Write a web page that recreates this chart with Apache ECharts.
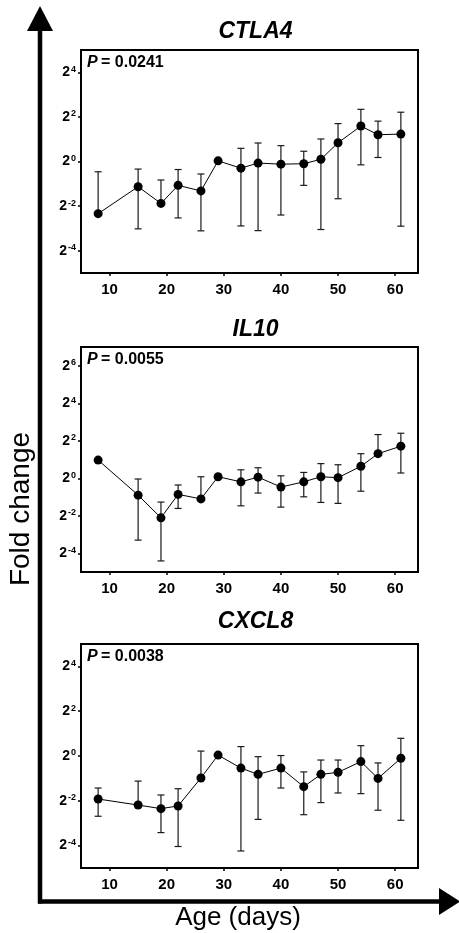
<!DOCTYPE html>
<html>
<head>
<meta charset="utf-8">
<script src="https://cdn.jsdelivr.net/npm/echarts@6/dist/echarts.min.js"></script>
<style>
  html, body { margin: 0; padding: 0; background: #fff; }
  #chart { width: 459px; height: 933px; }
</style>
</head>
<body>
<div id="chart"></div>
<script>
// ages (days), values are log2 fold change
const days = [8, 15, 19, 22, 26, 29, 33, 36, 40, 44, 47, 50, 54, 57, 61];
const xTicks = [10, 20, 30, 40, 50, 60];

const ctla4Mean  = [-2.34, -1.13, -1.88, -1.07, -1.32, 0.03, -0.30, -0.07, -0.12, -0.10, 0.10, 0.84, 1.59, 1.20, 1.23];
const ctla4Upper = [-0.46, -0.34, -0.83, -0.36, -0.56, null, 0.59, 0.83, 0.71, 0.46, 1.01, 1.70, 2.34, 1.81, 2.21];
const ctla4Lower = [null, -3.02, null, -2.53, -3.11, null, -2.89, -3.10, -2.40, -1.07, -3.05, -1.67, -0.15, 0.18, -2.90];

const il10Mean  = [0.97, -0.90, -2.11, -0.86, -1.10, 0.08, -0.19, 0.06, -0.47, -0.19, 0.08, 0.03, 0.64, 1.31, 1.71];
const il10Upper = [null, -0.04, -1.27, -0.36, 0.08, null, 0.45, 0.56, 0.13, 0.31, 0.78, 0.72, 1.31, 2.33, 2.40];
const il10Lower = [null, -3.30, -4.41, -1.61, null, null, -1.47, -0.79, -1.54, -0.99, -1.29, -1.34, -0.69, null, 0.28];

const cxcl8Mean  = [-1.92, -2.19, -2.35, -2.23, -0.98, 0.04, -0.54, -0.82, -0.54, -1.37, -0.82, -0.73, -0.25, -1.00, -0.10];
const cxcl8Upper = [-1.43, -1.12, -1.74, -1.46, 0.22, null, 0.42, -0.03, 0.02, -0.71, -0.18, -0.18, 0.46, -0.31, 0.79];
const cxcl8Lower = [-2.69, null, -3.42, -4.04, null, null, -4.24, -2.83, -1.43, -2.62, -2.08, -1.65, -1.68, -2.42, -2.87];

const panels = [
  { name: 'CTLA4', p: '0.0241', mean: ctla4Mean, upper: ctla4Upper, lower: ctla4Lower, yMin: -5, yMax: 5, yTicks: [-4, -2, 0, 2, 4], top: 50, height: 223, titleY: 27 },
  { name: 'IL10', p: '0.0055', mean: il10Mean, upper: il10Upper, lower: il10Lower, yMin: -5, yMax: 7, yTicks: [-4, -2, 0, 2, 4, 6], top: 347, height: 225, titleY: 325 },
  { name: 'CXCL8', p: '0.0038', mean: cxcl8Mean, upper: cxcl8Upper, lower: cxcl8Lower, yMin: -5, yMax: 5, yTicks: [-4, -2, 0, 2, 4], top: 644, height: 224, titleY: 617 }
];

const FONT = '"Liberation Sans", Arial, sans-serif';
const boxLeft = 81, boxWidth = 337;

var chart = echarts.init(document.getElementById('chart'), null, { renderer: 'canvas' });

function errorBars(params, api) {
  var x = api.value(0), m = api.value(1), lo = api.value(2), hi = api.value(3);
  if (lo === m && hi === m) return null;
  var pHi = api.coord([x, hi]);
  var pLo = api.coord([x, lo]);
  var w = 3.5;
  var style = { stroke: '#1a1a1a', lineWidth: 1.2 };
  var kids = [{ type: 'line', shape: { x1: pLo[0], y1: pLo[1], x2: pHi[0], y2: pHi[1] }, style: style }];
  if (hi !== m) kids.push({ type: 'line', shape: { x1: pHi[0] - w, y1: pHi[1], x2: pHi[0] + w, y2: pHi[1] }, style: style });
  if (lo !== m) kids.push({ type: 'line', shape: { x1: pLo[0] - w, y1: pLo[1], x2: pLo[0] + w, y2: pLo[1] }, style: style });
  return { type: 'group', children: kids };
}

var grids = [], xAxes = [], yAxes = [], series = [], titles = [], texts = [];
panels.forEach(function (pn, i) {
  grids.push({ left: boxLeft, width: boxWidth, top: pn.top, height: pn.height, show: true, borderColor: '#000', borderWidth: 2, backgroundColor: 'transparent' });
  xAxes.push({
    gridIndex: i, type: 'value', min: 5, max: 64, position: 'bottom',
    axisLine: { show: false, onZero: false }, splitLine: { show: false },
    axisTick: { show: true, length: 3, customValues: xTicks, lineStyle: { color: '#000', width: 1.5 } },
    axisLabel: { customValues: xTicks, margin: 9, color: '#000', fontFamily: FONT, fontWeight: 'bold', fontSize: 15 }
  });
  yAxes.push({
    gridIndex: i, type: 'value', min: pn.yMin, max: pn.yMax, position: 'left',
    axisLine: { show: false, onZero: false }, splitLine: { show: false },
    axisTick: { show: true, length: 3, customValues: pn.yTicks, lineStyle: { color: '#000', width: 1.5 } },
    axisLabel: {
      customValues: pn.yTicks, margin: 5, color: '#000',
      formatter: function (v) { return '{b|2}{s|' + v + '}'; },
      rich: {
        b: { fontFamily: FONT, fontWeight: 'bold', fontSize: 14, color: '#000' },
        s: { fontFamily: FONT, fontWeight: 'bold', fontSize: 9, color: '#000', verticalAlign: 'top', padding: [0, 0, 6, 1] }
      }
    }
  });
  series.push({
    type: 'custom', xAxisIndex: i, yAxisIndex: i, z: 2,
    renderItem: errorBars,
    data: days.map(function (d, k) {
      var m = pn.mean[k];
      return [d, m, pn.lower[k] == null ? m : pn.lower[k], pn.upper[k] == null ? m : pn.upper[k]];
    })
  });
  series.push({
    type: 'line', xAxisIndex: i, yAxisIndex: i, z: 3,
    symbol: 'circle', symbolSize: 9,
    itemStyle: { color: '#000' },
    lineStyle: { color: '#000', width: 1 },
    data: days.map(function (d, k) { return [d, pn.mean[k]]; })
  });
  titles.push({
    text: pn.name, left: boxLeft + boxWidth / 2 + 1, top: pn.titleY - 12, textAlign: 'center',
    textStyle: { fontFamily: FONT, fontWeight: 'bold', fontStyle: 'italic', fontSize: 23, lineHeight: 24, color: '#000' }
  });
  texts.push({
    type: 'text', left: boxLeft + 6, top: pn.top + 5,
    style: {
      text: '{i|P} {r|= ' + pn.p + '}',
      rich: {
        i: { fontFamily: FONT, fontWeight: 'bold', fontStyle: 'italic', fontSize: 16, fill: '#000' },
        r: { fontFamily: FONT, fontWeight: 'bold', fontSize: 16, fill: '#000' }
      }
    }
  });
});

// big axis arrows and their labels
var decor = [
  { type: 'line', shape: { x1: 40, y1: 28, x2: 40, y2: 903.5 }, style: { stroke: '#000', lineWidth: 4.5 } },
  { type: 'polygon', shape: { points: [[27, 31], [53, 31], [40, 6]] }, style: { fill: '#000' } },
  { type: 'line', shape: { x1: 38, y1: 901.5, x2: 442, y2: 901.5 }, style: { stroke: '#000', lineWidth: 4.5 } },
  { type: 'polygon', shape: { points: [[439, 888], [439, 915], [460, 901.5]] }, style: { fill: '#000' } },
  {
    type: 'text', x: 21, y: 509, rotation: Math.PI / 2,
    style: { text: 'Fold change', fontFamily: FONT, fontSize: 28, fill: '#000', textAlign: 'center', textVerticalAlign: 'middle' }
  },
  {
    type: 'text', x: 238, y: 918,
    style: { text: 'Age (days)', fontFamily: FONT, fontSize: 26, fill: '#000', textAlign: 'center', textVerticalAlign: 'middle' }
  }
];

chart.setOption({
  animation: false,
  backgroundColor: '#fff',
  title: titles,
  grid: grids,
  xAxis: xAxes,
  yAxis: yAxes,
  series: series,
  graphic: decor.concat(texts)
});
</script>
</body>
</html>
